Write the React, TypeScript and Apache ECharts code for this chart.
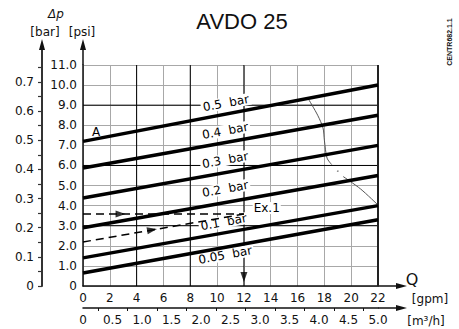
import React, { useEffect, useRef } from "react";
import * as echarts from "echarts";

// ---- data ----
const gpmTicks = [0, 2, 4, 6, 8, 10, 12, 14, 16, 18, 20, 22];
const m3hTicks = [0, 0.5, 1.0, 1.5, 2.0, 2.5, 3.0, 3.5, 4.0, 4.5, 5.0];
const psiTicks = [0, 1, 2, 3, 4, 5, 6, 7, 8, 9, 10, 11];
const barTicks = [0, 0.1, 0.2, 0.3, 0.4, 0.5, 0.6, 0.7];

const lineLabels = ["0.5  bar", "0.4  bar", "0.3  bar", "0.2  bar", "0.1  bar", "0.05  bar"];
const lineStartPsi = [7.2, 5.87, 4.38, 2.9, 1.4, 0.65]; // at 0 gpm
const lineEndPsi = [10.0, 8.5, 7.0, 5.5, 4.0, 3.3]; // at 22 gpm
const labelGpm = [10.66, 10.6, 10.6, 10.6, 10.5, 10.6];
const labelPsi = [9.1, 7.72, 6.27, 4.83, 3.18, 1.54];

const capacityCurveA = [[16.8, 9.32], [17.5, 8.5], [17.9, 7.86], [18.0, 7.26], [18.2, 6.37], [18.55, 6.04]];
const capacityDot = [[19.0, 5.72]];
const capacityCurveB = [[19.4, 5.45], [20.7, 4.83], [22, 4.03]];

const exampleUpper = [[0, 3.58], [12, 3.58]];
const exampleLower = [[0, 2.19], [12, 3.58]];
const exampleArrowUpper = [[2.8, 3.58]];
const exampleArrowLower = [[5.15, 2.79]];
const exampleDrop = [[12, 0.45]];
const exampleText = [{ value: [13.7, 3.88], name: "Ex.1" }];
const pointA = [{ value: [0.97, 7.66], name: "A" }];

const darkGpm = [4, 8, 12];
const darkPsi = [3, 6, 9];

const GPM_MAX = 22;
const PSI_MAX = 11;
const M3H_MAX = 5;
const BAR_MAX = 0.75;

const FONT = "DejaVu Sans";

export default function App() {
  const ref = useRef<HTMLDivElement>(null);
  useEffect(() => {
    if (!ref.current) return;
    const chart = echarts.init(ref.current, null, { renderer: "svg" });
    const grey = "#a8a8a8";
    const ink = "#111";

    const thickSeries = lineStartPsi.map((s, i) => ({
      type: "line",
      xAxisIndex: 0,
      yAxisIndex: 0,
      data: [[0, s], [GPM_MAX, lineEndPsi[i]]],
      symbol: "none",
      lineStyle: { color: "#000", width: 3.5 },
      z: 5,
      silent: true,
    }));

    const darkSeries = [
      ...darkGpm.map((g) => ({
        type: "line",
        data: [[g, 0], [g, PSI_MAX]],
        symbol: "none",
        lineStyle: { color: "#000", width: 1 },
        z: 1,
        silent: true,
      })),
      ...darkPsi.map((p) => ({
        type: "line",
        data: [[0, p], [GPM_MAX, p]],
        symbol: "none",
        lineStyle: { color: "#000", width: 1 },
        z: 1,
        silent: true,
      })),
      {
        type: "line",
        data: [[GPM_MAX, 0], [GPM_MAX, PSI_MAX]],
        symbol: "none",
        lineStyle: { color: "#222", width: 2 },
        z: 1,
        silent: true,
      },
    ];

    const labelBase = {
      show: true,
      position: "inside",
      formatter: "{b}",
      fontFamily: FONT,
      fontSize: 12,
      color: "#000",
      opacity: 1,
      backgroundColor: "#fff",
      padding: [0, 2],
    };

    const option: any = {
      animation: false,
      backgroundColor: "#fff",
      grid: [
        { left: 83, top: 65, right: 81, bottom: 43, show: false, outerBoundsMode: "none", containLabel: false },
        { left: 42, top: 67.45, width: 1, bottom: 43, show: false, outerBoundsMode: "none", containLabel: false },
      ],
      xAxis: [
        {
          gridIndex: 0,
          type: "value",
          min: gpmTicks[0],
          max: GPM_MAX,
          interval: 2,
          position: "bottom",
          axisLine: { show: true, onZero: false, lineStyle: { color: ink, width: 1.5 } },
          axisTick: { show: false },
          axisLabel: { fontFamily: FONT, fontSize: 12, color: ink, margin: 6, showMinLabel: true, showMaxLabel: true },
          splitLine: { show: true, lineStyle: { color: grey, width: 1 } },
        },
        {
          gridIndex: 0,
          type: "value",
          min: m3hTicks[0],
          max: M3H_MAX,
          interval: 0.5,
          position: "bottom",
          offset: 22,
          axisLine: { show: true, onZero: false, lineStyle: { color: ink, width: 1.5 } },
          axisTick: { show: true, length: 3, lineStyle: { color: "rgba(0,0,0,0)", width: 1 } },
          minorTick: { show: true, splitNumber: 2, length: 3, lineStyle: { color: ink, width: 1 } },
          axisLabel: {
            fontFamily: FONT,
            fontSize: 12,
            color: ink,
            margin: 6,
            showMinLabel: true,
            showMaxLabel: true,
            formatter: (v: number) => (v === 0 ? "0" : v.toFixed(1)),
          },
          splitLine: { show: false },
          minorSplitLine: { show: false },
        },
        { gridIndex: 1, type: "value", show: false, min: 0, max: 1 },
      ],
      yAxis: [
        {
          gridIndex: 0,
          type: "value",
          min: psiTicks[0],
          max: PSI_MAX,
          interval: 1,
          position: "left",
          axisLine: { show: true, onZero: false, lineStyle: { color: ink, width: 1.5 } },
          axisTick: { show: false },
          axisLabel: {
            fontFamily: FONT,
            fontSize: 12,
            color: ink,
            margin: 6,
            showMinLabel: true,
            showMaxLabel: true,
            formatter: (v: number) => (v === 0 ? "0" : v.toFixed(1)),
          },
          splitLine: { show: true, lineStyle: { color: grey, width: 1 } },
        },
        {
          gridIndex: 1,
          type: "value",
          min: barTicks[0],
          max: BAR_MAX,
          interval: 0.05,
          position: "left",
          axisLine: { show: true, onZero: false, lineStyle: { color: "#333", width: 2 } },
          axisTick: { show: true, length: 4, lineStyle: { color: "#333", width: 1.2 } },
          axisLabel: {
            fontFamily: FONT,
            fontSize: 12,
            color: ink,
            margin: 8,
            showMinLabel: true,
            showMaxLabel: true,
            formatter: (v: number) => {
              const k = Math.round(v * 100);
              if (k % 10 !== 0) return "";
              return k === 0 ? "0" : (k / 100).toFixed(1);
            },
          },
          splitLine: { show: false },
        },
      ],
      series: [
        ...darkSeries,
        {
          type: "scatter",
          data: lineLabels.map((t, i) => ({ value: [labelGpm[i], labelPsi[i]], name: t })),
          symbolSize: 0.1,
          itemStyle: { color: "#fff", opacity: 1 },
          label: { ...labelBase, rotate: 10.4 },
          z: 3,
          silent: true,
        },
        {
          type: "scatter",
          data: [...exampleText, ...pointA],
          symbolSize: 0.1,
          itemStyle: { color: "#fff", opacity: 1 },
          label: { ...labelBase, padding: [0, 1] },
          z: 3,
          silent: true,
        },
        ...thickSeries,
        {
          type: "line",
          data: capacityCurveA,
          symbol: "none",
          smooth: 0.3,
          lineStyle: { color: "#555", width: 1 },
          z: 4,
          silent: true,
        },
        {
          type: "line",
          data: capacityCurveB,
          symbol: "none",
          smooth: 0.3,
          lineStyle: { color: "#555", width: 1 },
          z: 4,
          silent: true,
        },
        {
          type: "scatter",
          data: capacityDot,
          symbolSize: 1.6,
          itemStyle: { color: "#555" },
          z: 4,
          silent: true,
        },
        {
          type: "line",
          data: exampleUpper,
          symbol: "none",
          lineStyle: { color: "#000", width: 1.5, type: [8, 5] },
          z: 4,
          silent: true,
        },
        {
          type: "line",
          data: exampleLower,
          symbol: "none",
          lineStyle: { color: "#000", width: 1.5, type: [8, 5] },
          z: 4,
          silent: true,
        },
        {
          type: "scatter",
          data: exampleArrowUpper,
          symbol: "triangle",
          symbolSize: [7, 10],
          symbolRotate: -90,
          itemStyle: { color: "#000" },
          z: 6,
          silent: true,
        },
        {
          type: "scatter",
          data: exampleArrowLower,
          symbol: "triangle",
          symbolSize: [7, 10],
          symbolRotate: -80,
          itemStyle: { color: "#000" },
          z: 6,
          silent: true,
        },
        {
          type: "scatter",
          data: exampleDrop,
          symbol: "triangle",
          symbolSize: [7, 10],
          symbolRotate: 180,
          itemStyle: { color: "#000" },
          z: 6,
          silent: true,
        },
      ],
      graphic: [
        // axis extensions with arrows
        { type: "line", shape: { x1: 42, y1: 68, x2: 42, y2: 48 }, style: { stroke: "#333", lineWidth: 2 } },
        { type: "polygon", shape: { points: [[42, 39], [39, 50], [45, 50]] }, style: { fill: "#111" } },
        { type: "line", shape: { x1: 83, y1: 65, x2: 83, y2: 48 }, style: { stroke: ink, lineWidth: 1.5 } },
        { type: "polygon", shape: { points: [[83, 39], [80, 50], [86, 50]] }, style: { fill: "#111" } },
        { type: "line", shape: { x1: 378, y1: 286, x2: 398, y2: 286 }, style: { stroke: ink, lineWidth: 1.5 } },
        { type: "polygon", shape: { points: [[407, 286], [396, 283], [396, 289]] }, style: { fill: "#111" } },
        { type: "line", shape: { x1: 378, y1: 308, x2: 398, y2: 308 }, style: { stroke: ink, lineWidth: 1.5 } },
        { type: "polygon", shape: { points: [[407, 308], [396, 305], [396, 311]] }, style: { fill: "#111" } },
        // texts
        {
          type: "text",
          x: 242,
          y: 21,
          style: { text: "AVDO 25", fontFamily: "Liberation Sans", fontSize: 22, fill: ink, textAlign: "center", textVerticalAlign: "middle" },
        },
        {
          type: "text",
          x: 449,
          y: 42,
          rotation: Math.PI / 2,
          style: { text: "CENTR682.1.1", fontFamily: "Liberation Sans", fontSize: 7, fontWeight: "bold", fill: ink, textAlign: "center", textVerticalAlign: "middle" },
        },
        {
          type: "text",
          x: 56,
          y: 14,
          style: { text: "Δp", fontFamily: FONT, fontSize: 12, fontStyle: "italic", fill: ink, textAlign: "center", textVerticalAlign: "middle" },
        },
        {
          type: "text",
          x: 45,
          y: 32,
          style: { text: "[bar]", fontFamily: FONT, fontSize: 12, fill: ink, textAlign: "center", textVerticalAlign: "middle" },
        },
        {
          type: "text",
          x: 82,
          y: 32,
          style: { text: "[psi]", fontFamily: FONT, fontSize: 12, fill: ink, textAlign: "center", textVerticalAlign: "middle" },
        },
        {
          type: "text",
          x: 412,
          y: 279,
          style: { text: "Q", fontFamily: FONT, fontSize: 16, fill: ink, textAlign: "center", textVerticalAlign: "middle" },
        },
        {
          type: "text",
          x: 430,
          y: 299,
          style: { text: "[gpm]", fontFamily: FONT, fontSize: 12, fill: ink, textAlign: "center", textVerticalAlign: "middle" },
        },
        {
          type: "text",
          x: 426,
          y: 321,
          style: { text: "[m³/h]", fontFamily: FONT, fontSize: 12, fill: ink, textAlign: "center", textVerticalAlign: "middle" },
        },
      ],
    };
    chart.setOption(option);
    return () => chart.dispose();
  }, []);
  return (
    <div
      ref={ref}
      style={{ position: "fixed", left: 0, top: 0, width: 459, height: 329, background: "#fff" }}
    />
  );
}
